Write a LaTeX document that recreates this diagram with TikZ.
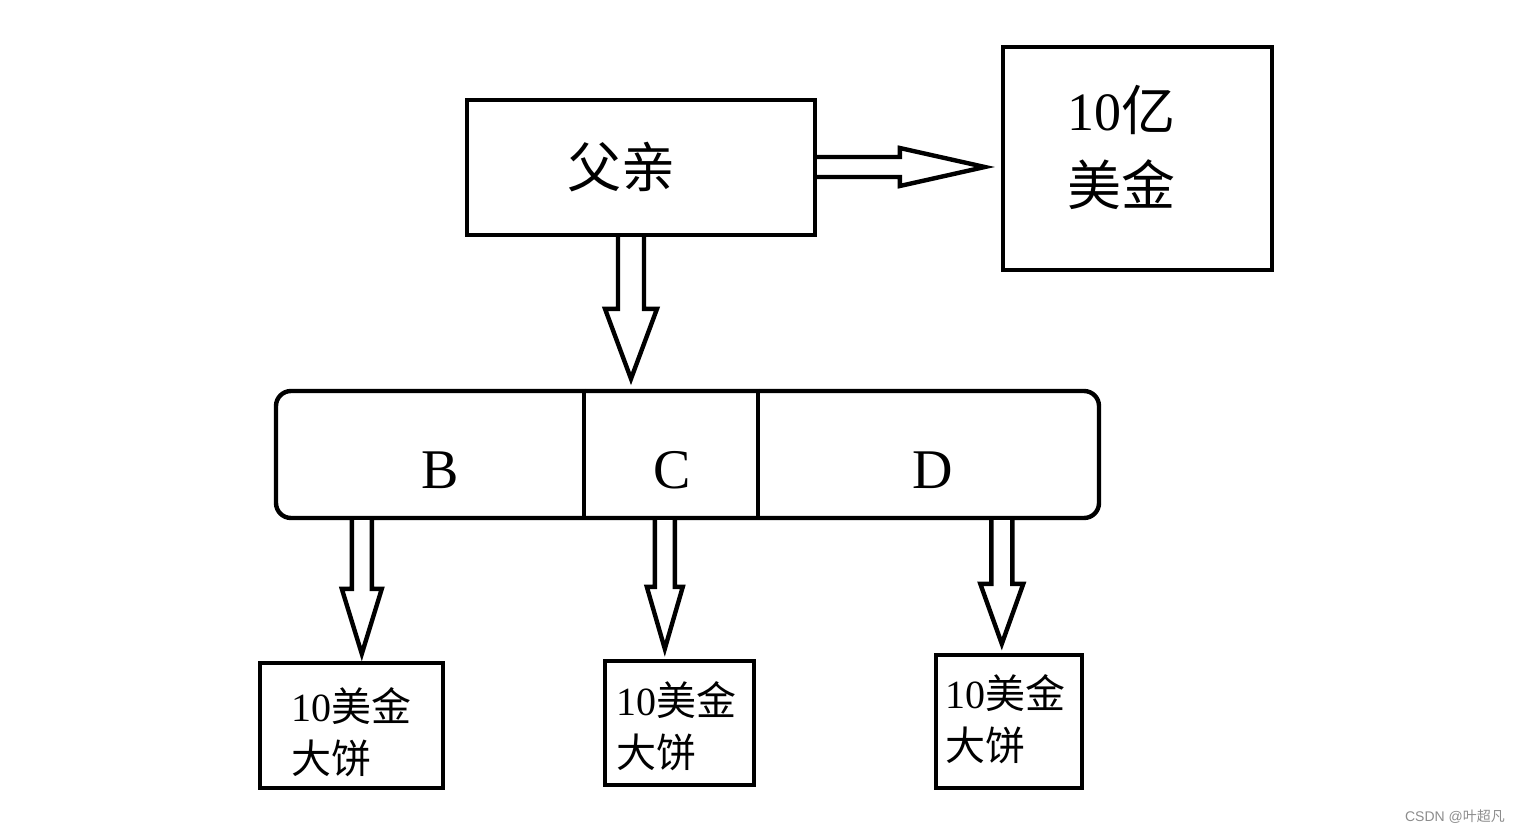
\documentclass[tikz,border=0pt]{standalone}
\usepackage{fontspec}
\setmainfont{Liberation Serif}
\newfontfamily\cjk{Noto Sans CJK SC}
\newfontfamily\wmfont{Liberation Sans}
\usetikzlibrary{calc}
\tikzset{
  box/.style={draw=black, line width=4.4pt, fill=white, inner sep=0pt},
  blockarrow/.style={draw=black, line width=4.4pt, fill=white, line join=miter},
  bigtxt/.style={font=\fontsize{54}{75}\selectfont, inner sep=0pt},
  lettertxt/.style={font=\fontsize{56}{60}\selectfont, inner sep=0pt, anchor=base},
  smalltxt/.style={font=\fontsize{40}{52}\selectfont, inner sep=0pt, align=left},
  divider/.style={draw=black, line width=4.4pt},
}
% vertical block arrow: #1 start, #2 tip (its y only), #3 shaft half width, #4 head half width, #5 head length
\newcommand{\vblockarrow}[5]{%
  \draw[blockarrow] let \p1=(#1), \p2=(#2) in
    (\x1-#3pt,\y1) -- (\x1-#3pt,\y2+#5pt) -- (\x1-#4pt,\y2+#5pt) -- (\x1,\y2)
    -- (\x1+#4pt,\y2+#5pt) -- (\x1+#3pt,\y2+#5pt) -- (\x1+#3pt,\y1);}
% horizontal block arrow: #1 start, #2 tip (its x only)
\newcommand{\hblockarrow}[5]{%
  \draw[blockarrow] let \p1=(#1), \p2=(#2) in
    (\x1,\y1+#3pt) -- (\x2-#5pt,\y1+#3pt) -- (\x2-#5pt,\y1+#4pt) -- (\x2,\y1)
    -- (\x2-#5pt,\y1-#4pt) -- (\x2-#5pt,\y1-#3pt) -- (\x1,\y1-#3pt);}
\begin{document}
\begin{tikzpicture}[x=1pt,y=-1pt]
\useasboundingbox (0,0) rectangle (1520,835);
% top boxes
\node[box, minimum width=348pt, minimum height=135pt] (father) at (641,167.5) {};
\node[font=\fontsize{54}{60}\selectfont\cjk, inner sep=0pt] (fathertext) at ($(father.center)+(-20,0)$) {父亲};
\node[box, minimum width=269pt, minimum height=223pt] (money) at (1137.5,158.5) {};
\node[bigtxt, align=left] (moneytext) at (1121,147) {10\cjk 亿\\{\cjk 美金}};
% bar
\node[box, rounded corners=15pt, minimum width=823pt, minimum height=127pt] (bar) at (687.5,454.5) {};
\coordinate (d1top) at ($(bar.north west)+(310,0)$);
\coordinate (d1bot) at ($(bar.south west)+(310,0)$);
\coordinate (d2top) at ($(bar.north west)+(484,0)$);
\coordinate (d2bot) at ($(bar.south west)+(484,0)$);
\draw[divider] (d1top) -- (d1bot);
\draw[divider] (d2top) -- (d2bot);
\node[lettertxt] (B) at (440,488) {B};
\node[lettertxt] (C) at (672,488) {C};
\node[lettertxt] (D) at (933,488) {D};
% bottom boxes
\node[box, minimum width=183pt, minimum height=125pt] (box1) at (351.5,725.5) {};
\node[box, minimum width=149pt, minimum height=124pt] (box2) at (679.5,723) {};
\node[box, minimum width=146pt, minimum height=133pt] (box3) at (1009,721.5) {};
\node[smalltxt] (t1) at ($(box1.center)+(0,7)$) {10\cjk 美金\\{\cjk 大饼}};
\node[smalltxt] (t2) at ($(box2.center)+(-3,3)$) {10\cjk 美金\\{\cjk 大饼}};
\node[smalltxt] (t3) at ($(box3.center)+(-4,-2)$) {10\cjk 美金\\{\cjk 大饼}};
% arrows
\coordinate (a0s) at ($(father.east)+(0,-0.5)$);
\coordinate (a0t) at ($(money.west)+(-16,0)$);
\hblockarrow{a0s}{a0t}{10}{19}{85}
\coordinate (a1s) at ($(father.south)+(-10,0)$);
\coordinate (a1t) at ($(bar.north)+(0,-10)$);
\vblockarrow{a1s}{a1t}{13}{26}{70}
\coordinate (a2s) at ($(bar.south west)+(88,0)$);
\coordinate (a2t) at ($(box1.north)+(0,-7)$);
\vblockarrow{a2s}{a2t}{10}{20}{65}
\coordinate (a3s) at ($(bar.south west)+(391,0)$);
\coordinate (a3t) at ($(box2.north)+(0,-10)$);
\vblockarrow{a3s}{a3t}{10}{18}{62}
\coordinate (a4s) at ($(bar.south west)+(728,0)$);
\coordinate (a4t) at ($(box3.north)+(0,-9)$);
\vblockarrow{a4s}{a4t}{10.5}{21.5}{60}
% watermark
\node[font=\fontsize{14}{14}\selectfont\wmfont, text=black!45, inner sep=0pt] (wm) at (1455,817) {CSDN @{\cjk 叶超凡}};
\end{tikzpicture}
\end{document}
